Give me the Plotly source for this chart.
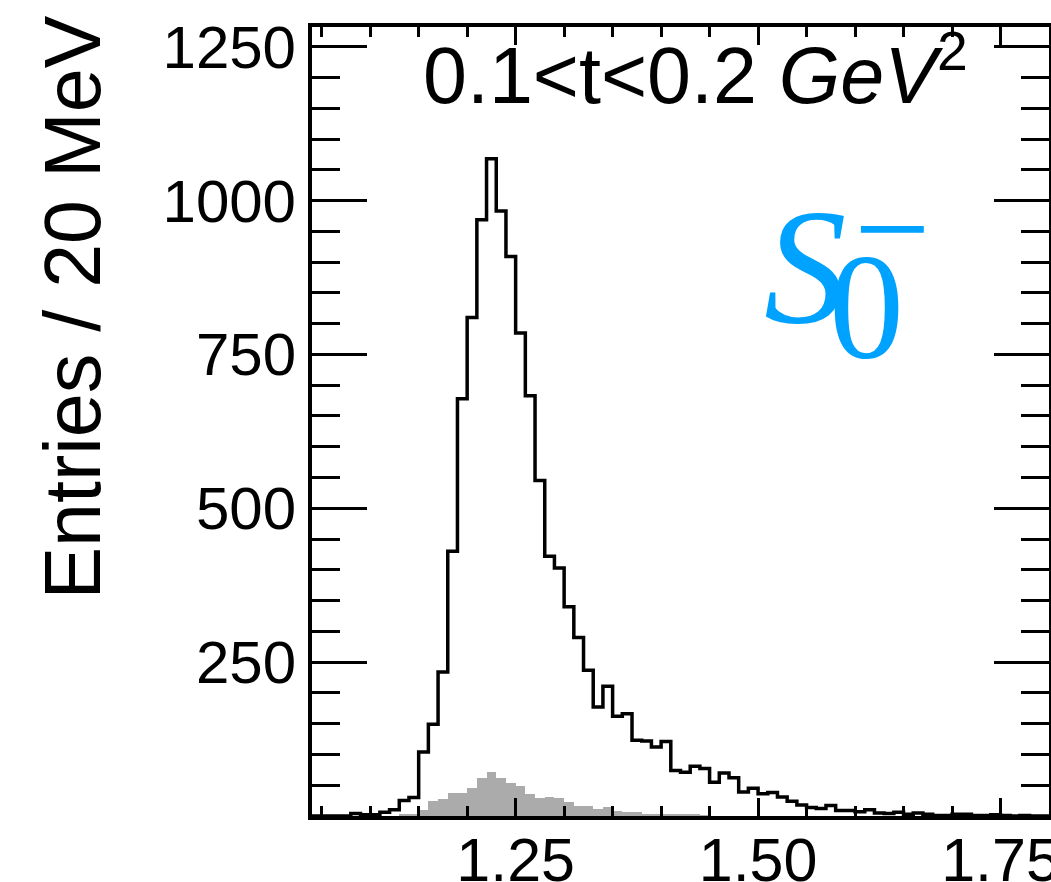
import numpy as np
import plotly.graph_objects as go

# ---- data ----
bin_lo = 1.04
bin_width = 0.01
signal_counts = [0, 0, 0, 0, 4, 2, 2, 6, 10, 25,
                 30, 104, 149, 234, 430, 678, 810, 969, 1068, 983,
                 909, 785, 683, 545, 422, 403, 340, 290, 237, 177,
                 211, 162, 166, 123, 122, 112, 121, 74, 71, 81,
                 77, 55, 70, 62, 39, 45, 36, 38, 31, 24,
                 18, 14, 12, 17, 9, 9, 7, 10, 5, 4,
                 6, 3, 5, 3, 1, 1, 3, 3, 1, 1,
                 2, 1, 0, 1, 0, 0]
background_counts = [0, 0, 0, 0, 0, 0, 0, 0, 0, 3,
                     3, 10, 24, 28, 38, 38, 46, 62, 71, 62,
                     53, 48, 35, 29, 31, 29, 22, 17, 17, 11,
                     14, 8, 6, 6, 4, 4, 3, 3, 2, 2,
                     1, 0, 0, 0, 0, 0, 0, 0, 0, 0,
                     0, 0, 0, 0, 0, 0, 0, 0, 0, 0,
                     0, 0, 0, 0, 0, 0, 0, 0, 0, 0,
                     0, 0, 0, 0, 0, 0]
x_tick_vals = [1.25, 1.50, 1.75]
x_tick_text = ["1.25", "1.50", "1.75"]
y_tick_vals = [250, 500, 750, 1000, 1250]
y_tick_text = ["250", "500", "750", "1000", "1250"]
title_text = "0.1&lt;t&lt;0.2 <i>GeV</i><sup>2</sup>"
y_title = "Entries / 20 MeV"

n = len(signal_counts)
edges = bin_lo + bin_width * np.arange(n + 1)
centers = edges[:-1] + bin_width / 2

fig = go.Figure()
fig.add_trace(go.Bar(x=centers, y=background_counts, width=bin_width,
                     marker=dict(color="#ababab", line=dict(width=0)),
                     showlegend=False))
fig.add_trace(go.Scatter(x=list(edges[:-1]) + [edges[-1]],
                         y=signal_counts + [signal_counts[-1]],
                         mode="lines", line=dict(color="black", width=3.5, shape="hv"),
                         showlegend=False))

font_sans = "Liberation Sans, Arial, sans-serif"
font_serif = "Liberation Serif, Times New Roman, serif"

fig.update_layout(
    width=1051, height=882,
    margin=dict(l=312, r=2, t=27, b=66, autoexpand=False),
    paper_bgcolor="white", plot_bgcolor="white",
    bargap=0,
    font=dict(family=font_sans, color="black"),
    xaxis=dict(range=[bin_lo, bin_lo + n * bin_width],
               tickvals=x_tick_vals, ticktext=x_tick_text,
               ticks="inside", ticklen=18, tickwidth=2.5, tickcolor="black",
               minor=dict(dtick=0.05, tick0=1.0, ticks="inside", ticklen=10,
                          tickwidth=2.5, tickcolor="black"),
               showline=True, linewidth=4, linecolor="black", mirror="allticks",
               showgrid=False, zeroline=False, automargin=False,
               ticklabeloverflow="allow",
               tickfont=dict(size=61, family=font_sans),
               ticklabelstandoff=-12),
    yaxis=dict(range=[0, 1282],
               tickvals=y_tick_vals, ticktext=y_tick_text,
               ticks="inside", ticklen=55, tickwidth=2.5, tickcolor="black",
               minor=dict(dtick=50, tick0=0, ticks="inside", ticklen=28,
                          tickwidth=2.5, tickcolor="black"),
               showline=True, linewidth=4, linecolor="black", mirror="allticks",
               showgrid=False, zeroline=False, automargin=False,
               ticklabeloverflow="allow",
               tickfont=dict(size=60, family=font_sans),
               ticklabelstandoff=0),
)

fig.add_annotation(text=title_text, xref="paper", yref="paper",
                   x=0.52, y=0.945, xanchor="center", yanchor="middle",
                   showarrow=False, font=dict(size=79, family=font_sans, color="black"))
fig.add_annotation(text=y_title, xref="paper", yref="paper", textangle=-90,
                   x=-0.325, y=0.645, xanchor="center", yanchor="middle",
                   showarrow=False, font=dict(size=79, family=font_sans, color="black"))
blue = "rgb(0,162,255)"
fig.add_annotation(text="<i>S</i>", xref="paper", yref="paper",
                   x=0.670, y=0.696, xanchor="center", yanchor="middle",
                   showarrow=False, font=dict(size=165, family=font_serif, color=blue))
fig.add_annotation(text="0", xref="paper", yref="paper",
                   x=0.7517, y=0.645, xanchor="center", yanchor="middle",
                   showarrow=False, font=dict(size=150, family=font_serif, color=blue))
fig.add_annotation(text="\u2212", xref="paper", yref="paper",
                   x=0.787, y=0.745, xanchor="center", yanchor="middle",
                   showarrow=False, font=dict(size=135, family=font_serif, color=blue))

fig.write_html("out.html", config={"displayModeBar": False},
               post_script="document.body.style.margin='0px';")
